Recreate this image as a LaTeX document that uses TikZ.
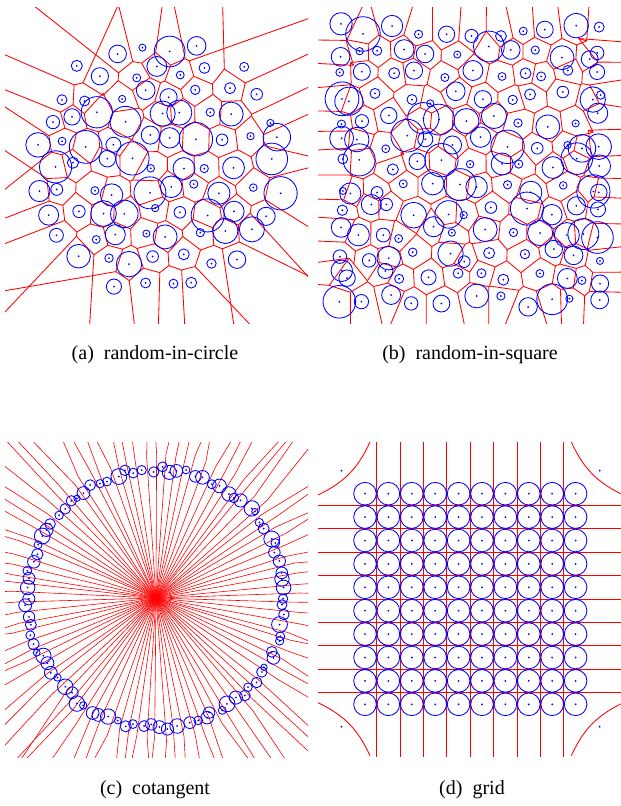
\documentclass[tikz,border=0pt]{standalone}
\usepackage{fontspec}
\setmainfont{Liberation Serif}
\usepackage{tikz}
\usetikzlibrary{calc}

\tikzset{
  cell/.style={draw=red, line width=0.85pt},
  ray/.style={draw=red, line width=0.6pt},
  site/.style={draw=blue, line width=0.85pt},
  dot/.style={fill=blue},
  caption/.style={anchor=base, font=\rmfamily\fontsize{20}{24}\selectfont},
}

% circumcentre of three sites -> coordinate #7
\newcommand\circum[7]{%
  \pgfmathsetmacro\ax{#1}\pgfmathsetmacro\ay{#2}%
  \pgfmathsetmacro\bx{((#3)-\ax)/30}\pgfmathsetmacro\by{((#4)-\ay)/30}%
  \pgfmathsetmacro\qx{((#5)-\ax)/30}\pgfmathsetmacro\qy{((#6)-\ay)/30}%
  \pgfmathsetmacro\dd{max(2*(\bx*\qy-\by*\qx),0.35)}%
  \pgfmathsetmacro\ux{(\qy*(\bx*\bx+\by*\by)-\by*(\qx*\qx+\qy*\qy))/\dd}%
  \pgfmathsetmacro\uy{(\bx*(\qx*\qx+\qy*\qy)-\qx*(\bx*\bx+\by*\by))/\dd}%
  \coordinate (#7) at ({\ax+30*\ux},{\ay+30*\uy});%
}
% open edge of a hull cell: panel, cell, shared sites, third site
\newcommand\hullray[5]{%
  \pgfmathsetmacro\nx{sy#1(#4)-sy#1(#3)}\pgfmathsetmacro\ny{sx#1(#3)-sx#1(#4)}%
  \pgfmathsetmacro\sg{((sx#1(#3)+sx#1(#4))/2-sx#1(#5))*\nx+((sy#1(#3)+sy#1(#4))/2-sy#1(#5))*\ny<0 ? -1 : 1}%
  \pgfmathsetmacro\nl{veclen(\nx,\ny)}%
  \draw[cell] (#1-#2) -- ($(#1-#2)+({400*\sg*\nx/\nl},{400*\sg*\ny/\nl})$);%
}
\newcommand\edgeor[7]{%
  \ifcsname pgf@sh@ns@#1-#2\endcsname
    \ifcsname pgf@sh@ns@#1-#3\endcsname
      \draw[cell] (#1-#2) -- (#1-#3);
    \else
      \hullray{#1}{#2}{#4}{#5}{#6}%
    \fi
  \else
    \ifcsname pgf@sh@ns@#1-#3\endcsname
      \hullray{#1}{#3}{#4}{#5}{#7}%
    \fi
  \fi
}
% Voronoi cells and circles of one random panel
\newcommand\vorpanel[1]{%
  \foreach \i in {-9,...,9} {\foreach \j in {-6,...,6} {
    \pgfmathtruncatemacro\fu{in#1(\i,\j)*in#1(\i+1,\j)*in#1(\i,\j+1)}
    \ifnum\fu=1
      \circum{sx#1(\i,\j)}{sy#1(\i,\j)}{sx#1(\i+1,\j)}{sy#1(\i+1,\j)}{sx#1(\i,\j+1)}{sy#1(\i,\j+1)}{#1-U-\i-\j}
    \fi
    \pgfmathtruncatemacro\fd{in#1(\i+1,\j)*in#1(\i+1,\j+1)*in#1(\i,\j+1)}
    \ifnum\fd=1
      \circum{sx#1(\i+1,\j)}{sy#1(\i+1,\j)}{sx#1(\i+1,\j+1)}{sy#1(\i+1,\j+1)}{sx#1(\i,\j+1)}{sy#1(\i,\j+1)}{#1-D-\i-\j}
    \fi
  }}
  \foreach \i in {-9,...,9} {\foreach \j in {-6,...,6} {
    \pgfmathtruncatemacro\jm{\j-1}\pgfmathtruncatemacro\im{\i-1}
    \edgeor{#1}{U-\i-\j}{D-\i-\jm}{\i,\j}{\i+1,\j}{\i,\j+1}{\i+1,\j-1}
    \edgeor{#1}{U-\i-\j}{D-\im-\j}{\i,\j}{\i,\j+1}{\i+1,\j}{\i-1,\j+1}
    \edgeor{#1}{U-\i-\j}{D-\i-\j}{\i+1,\j}{\i,\j+1}{\i,\j}{\i+1,\j+1}
  }}
  \foreach \i in {-9,...,9} {\foreach \j in {-6,...,6} {
    \pgfmathtruncatemacro\fs{in#1(\i,\j)}
    \ifnum\fs=1
      \coordinate (#1-s-\i-\j) at ({sx#1(\i,\j)},{sy#1(\i,\j)});
      \pgfmathsetmacro\crad{3.5+14*((hs(\i,\j,5)+1)/2)^2}
      \draw[site] (#1-s-\i-\j) circle[radius=\crad];
      \fill[dot] (#1-s-\i-\j) circle[radius=1];
    \fi
  }}
}

\begin{document}
\begin{tikzpicture}[x=1pt, y=-1pt,
    declare function={
      hs(\m,\n,\s)=2*frac(abs(437.585*sin(127.1*\m+311.7*\n+74.7*\s)))-1;
      lxa(\m,\n)=157+27*(\m+0.5*\n);
      lya(\n)=165+23.38*\n;
      sxa(\m,\n)=lxa(\m,\n)+7*hs(\m,\n,1);
      sya(\m,\n)=lya(\n)+7*hs(\m,\n,2);
      ina(\m,\n)=(\m>-10)*(\m<10)*(\n>-7)*(\n<7)*(veclen((lxa(\m,\n)-157)/100,(lya(\n)-165)/100)<1.34);
      lxb(\m,\n)=470+26*(\m+0.5*\n);
      sxb(\m,\n)=max(341,min(599,lxb(\m,\n)))+hs(\m,\n,3)*(2+5*(lxb(\m,\n)>341)*(lxb(\m,\n)<599));
      syb(\m,\n)=165+22.5*\n+7*hs(\m,\n,4);
      inb(\m,\n)=(\m>-10)*(\m<10)*(\n>-7)*(\n<7)*(lxb(\m,\n)>326)*(lxb(\m,\n)<614);
    }]
\useasboundingbox (0,0) rectangle (621,806);

% (a) random-in-circle
\begin{scope}
  \clip (5,7) rectangle (308,323);
  \vorpanel{a}
\end{scope}

% (b) random-in-square
\begin{scope}
  \clip (318,7) rectangle (621,323);
  \vorpanel{b}
\end{scope}

% (c) cotangent
\coordinate (cc) at (156,598);
\begin{scope}
  \clip (5,442) rectangle (308,757);
  \foreach \k in {0,...,89} {
    \pgfmathsetmacro\ang{4*\k+2+0.8*hs(\k,4,9)}
    \pgfmathsetmacro\rad{140+9*hs(\k,5,9)}
    \pgfmathsetmacro\tilt{\ang+10*hs(\k,6,9)}
    \coordinate (ci-\k) at ($(cc)+(\ang:\rad)$);
    \coordinate (co-\k) at ($(ci-\k)+(\tilt:320)$);
    \draw[ray] (cc) -- (ci-\k) -- (co-\k);
  }
  \foreach \k in {0,...,89} {
    \pgfmathsetmacro\ang{4*\k+1.2*hs(\k,0,9)}
    \pgfmathsetmacro\rad{129+3*hs(\k,1,9)}
    \pgfmathsetmacro\crad{3+5*(hs(\k,2,9)+1)/2}
    \coordinate (cs-\k) at ($(cc)+(\ang:\rad)$);
    \draw[site] (cs-\k) circle[radius=\crad];
    \fill[dot] (cs-\k) circle[radius=1];
  }
\end{scope}

% (d) grid
\begin{scope}
  \clip (318,442) rectangle (621,757);
  \foreach \m in {0,...,8} {
    \coordinate (dv-\m-t) at ({376.7+23.4*\m},442);
    \coordinate (dv-\m-b) at ({376.7+23.4*\m},757);
    \draw[cell] (dv-\m-t) -- (dv-\m-b);
    \coordinate (dh-\m-l) at (318,{505.4+23.4*\m});
    \coordinate (dh-\m-r) at (621,{505.4+23.4*\m});
    \draw[cell] (dh-\m-l) -- (dh-\m-r);
  }
  \draw[cell] (370,442) .. controls (358,468) and (345,482) .. (318,495);
  \draw[cell] (571.3,442) .. controls (583.3,468) and (596.3,482) .. (623.3,495);
  \draw[cell] (370,755.7) .. controls (358,729.7) and (345,715.7) .. (318,702.7);
  \draw[cell] (571.3,755.7) .. controls (583.3,729.7) and (596.3,715.7) .. (623.3,702.7);
  \foreach \m in {0,...,9} {\foreach \n in {0,...,9} {
    \coordinate (ds-\m-\n) at ({365+23.4*\m},{493.7+23.4*\n});
    \draw[site] (ds-\m-\n) circle[radius=11.3];
    \fill[dot] (ds-\m-\n) circle[radius=1];
  }}
  \foreach \p in {(341.3,470.7),(599.7,470.7),(341.3,726.7),(599.7,726.7)}
    {\fill[dot] \p circle[radius=1];}
\end{scope}

\node[caption] (cap-a) at (155,359) {(a)\ \ random-in-circle};
\node[caption] (cap-b) at (470,359) {(b)\ \ random-in-square};
\node[caption] (cap-c) at (155,794) {(c)\ \ cotangent};
\node[caption] (cap-d) at (472,794) {(d)\ \ grid};
\end{tikzpicture}
\end{document}
